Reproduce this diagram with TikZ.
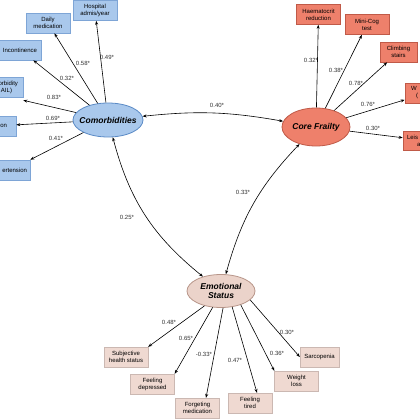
\documentclass[tikz,border=0pt]{standalone}
\usepackage{fontspec}
\setmainfont{Liberation Sans}
\usetikzlibrary{arrows.meta,shapes.geometric}
\definecolor{bF}{HTML}{A9C8EC}
\definecolor{bD}{HTML}{7EA5D6}
\definecolor{bE}{HTML}{5A8AC6}
\definecolor{rF}{HTML}{EE806B}
\definecolor{rD}{HTML}{C05A48}
\definecolor{pF}{HTML}{EBD3CA}
\definecolor{pD}{HTML}{B8968A}
\definecolor{pB}{HTML}{EFD9D1}
\begin{document}
\begin{tikzpicture}[x=1pt,y=-1pt,
  box/.style={rectangle, minimum width=44pt, minimum height=20pt, inner sep=1pt,
    font=\fontsize{6}{7}\selectfont, align=center},
  bbox/.style={box, fill=bF, draw=bD, line width=0.6pt},
  rbox/.style={box, fill=rF, draw=rD, line width=0.6pt},
  pbox/.style={box, fill=pB, draw=pB!85!black, line width=0.3pt},
  lat/.style={ellipse, inner sep=0pt, line width=0.8pt,
    font=\fontsize{8.5}{10}\selectfont\bfseries\itshape},
  lab/.style={font=\fontsize{6}{7}\selectfont, text=black!80, inner sep=0pt},
  arr/.style={line width=0.6pt, -{Stealth[length=4pt,width=3pt]}},
  darr/.style={line width=0.6pt, {Stealth[length=4pt,width=3pt]}-{Stealth[length=4pt,width=3pt]}}
]
\useasboundingbox (0,0) rectangle (420,420);
\clip (0,0) rectangle (420,420);
\fill[white] (0,0) rectangle (420,420);

% latent variables
\node[lat, fill=bF, draw=bE, minimum width=70pt, minimum height=34pt] (com) at (108,120) {\makebox[0pt]{Comorbidities}};
\node[lat, fill=rF, draw=rD, minimum width=68pt, minimum height=38pt] (core) at (316,127) {\makebox[0pt]{Core Frailty}};
\node[lat, fill=pF, draw=pD, minimum width=68pt, minimum height=33pt] (emo) at (221,291) {\makebox[0pt]{\shortstack{Emotional\\Status}}};

% comorbidity indicators
\node[bbox] (hosp) at (95,10.5) {Hospital\\admis/year};
\node[bbox] (daily) at (48,23) {Daily\\medication};
\node[bbox, minimum width=71pt] (inc) at (5.5,50) {\makebox[63pt][r]{Incontinence}};
\node[bbox] (mm) at (1,87) {\makebox[34pt][r]{orbidity}\\\makebox[34pt][r]{AIL)\hspace{6pt}}};
\node[bbox] (on) at (-6,126) {\makebox[26pt][r]{on}};
\node[bbox] (hyp) at (8,170) {\makebox[38pt][r]{ertension}};

% core frailty indicators
\node[rbox] (haem) at (318.5,14.5) {Haematocrit\\reduction};
\node[rbox] (mini) at (367,24.5) {Mini-Cog\\test};
\node[rbox, minimum width=37pt] (climb) at (398.5,52) {Climbing\\stairs};
\node[rbox] (walk) at (427,93) {\makebox[32pt][l]{W}\\\makebox[32pt][l]{\hspace{5pt}(}};
\node[rbox, minimum height=19pt] (leis) at (425,140.5) {\makebox[36pt][l]{Leis}\\\makebox[36pt][l]{\hspace{10pt}a}};

% emotional indicators
\node[pbox] (subj) at (126,357) {Subjective\\health status};
\node[pbox] (dep) at (152.5,384) {Feeling\\depressed};
\node[pbox] (forg) at (197.5,408) {Forgeting\\medication};
\node[pbox] (tired) at (250,403) {Feeling\\tired};
\node[pbox] (wt) at (296.5,381) {Weight\\loss};
\node[pbox, minimum width=39pt] (sarc) at (319.5,357) {Sarcopenia};

% comorbidity loadings
\draw[arr] (com) -- (hosp);
\draw[arr] (com) -- (daily);
\draw[arr] (com) -- ([xshift=-8pt]inc.south east);
\draw[arr] (com) -- ([yshift=-3pt]mm.south east);
\draw[arr] (com) -- (on);
\draw[arr] (com) -- (hyp.north east);

% core frailty loadings
\draw[arr] (core) -- (haem);
\draw[arr] (core) -- (mini);
\draw[arr] (core) -- (climb);
\draw[arr] (core) -- (walk);
\draw[arr] (core) -- (leis);

% emotional loadings
\draw[arr] (emo.-138) -- (subj.north east);
\draw[arr] (emo.-117) -- (dep.north east);
\draw[arr] (emo.-83) -- ([xshift=8.5pt]forg.north);
\draw[arr] (emo.-55) -- ([xshift=7pt]tired.north);
\draw[arr] (emo.-35) -- (wt.north west);
\draw[arr] (emo.-17) -- (sarc.west);

% correlations
\draw[darr] (com) to[bend left=8] (core);
\draw[darr] (com) to[bend right=18] (emo);
\draw[darr] (core) to[bend right=14] (emo);

% labels
\node[lab] (l1) at (107,57) {0.49*};
\node[lab] (l2) at (83,63) {0.58*};
\node[lab] (l3) at (67,78) {0.32*};
\node[lab] (l4) at (54,97) {0.83*};
\node[lab] (l5) at (53,118) {0.69*};
\node[lab] (l6) at (56,138) {0.41*};
\node[lab] (l7) at (311,60) {0.32*};
\node[lab] (l8) at (336,70) {0.38*};
\node[lab] (l9) at (356,83) {0.78*};
\node[lab] (l10) at (368,104) {0.76*};
\node[lab] (l11) at (373,128) {0.30*};
\node[lab] (l12) at (169,322) {0.48*};
\node[lab] (l13) at (186,338) {0.65*};
\node[lab] (l14) at (204,354) {-0.33*};
\node[lab] (l15) at (235,360) {0.47*};
\node[lab] (l16) at (277,353) {0.36*};
\node[lab] (l17) at (287,332) {0.30*};
\node[lab] (l18) at (217,105) {0.40*};
\node[lab] (l19) at (127,217) {0.25*};
\node[lab] (l20) at (243,192) {0.33*};
\end{tikzpicture}
\end{document}
